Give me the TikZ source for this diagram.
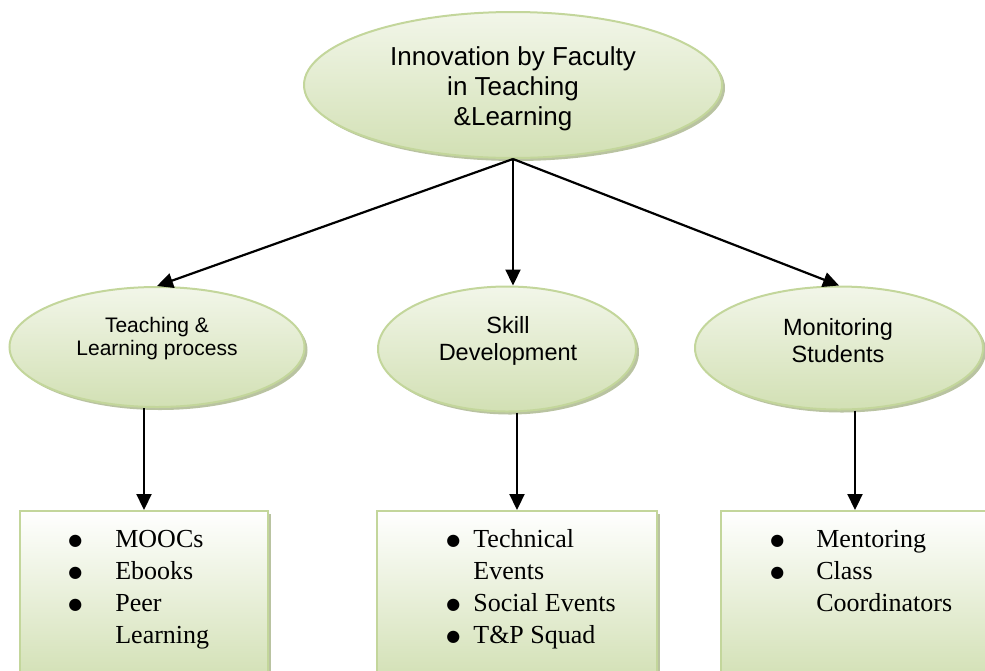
\documentclass[tikz,border=0pt]{standalone}
\usepackage{fontspec}
\setmainfont{Liberation Serif}
\setsansfont{Liberation Sans}
\newfontfamily\dotfont{DejaVu Sans}
\usetikzlibrary{arrows.meta, positioning, shapes.geometric, shadows}
\definecolor{leaf}{RGB}{195,214,155}
\definecolor{leaftop}{RGB}{242,246,233}
\definecolor{leafbot}{RGB}{210,224,180}
\definecolor{leafshade}{RGB}{168,180,138}
\newcommand{\bdot}{\raisebox{1.2pt}{\dotfont\fontsize{8pt}{10pt}\selectfont ●}}
\newcommand{\blist}[2]{\begin{tabular}{@{}l@{\hspace{#1}}l@{}}#2\end{tabular}}

\begin{document}
\begin{tikzpicture}[
      x=0.5pt, y=-0.5pt,
      oval/.style={ellipse, draw=leaf, line width=1pt, inner sep=0pt,
                   top color=leaftop, bottom color=leafbot,
                   drop shadow={shadow xshift=1.5pt, shadow yshift=-1.5pt,
                                fill=leafshade, opacity=.8}},
      panel/.style={rectangle, draw=leaf, line width=1pt, inner sep=0pt,
                    top color=white, bottom color=leafbot, anchor=north,
                    drop shadow={shadow xshift=1.5pt, shadow yshift=-1.5pt,
                                 fill=leafshade, opacity=.8}},
      otext/.style={align=center, inner sep=0pt, font=\sffamily},
      list/.style={anchor=north west, inner sep=0pt,
                   font=\fontsize{13pt}{16pt}\selectfont},
      ar/.style={-{Triangle[length=8pt, width=7.5pt]}, line width=1.1pt, draw=black}
    ]
    \useasboundingbox (0,0) rectangle (985,670);
    \clip (0,0) rectangle (985,670);
    % ovals
    \node[oval, minimum width=209pt, minimum height=73pt] (top) at (513,85) {};
    \node[oval, minimum width=147.5pt, minimum height=60pt] (tl) at (157,347) {};
    \node[oval, minimum width=129pt, minimum height=62.5pt] (sd) at (507,349) {};
    \node[oval, minimum width=144pt, minimum height=61.5pt] (ms) at (839,348) {};
    \node[otext, font=\sffamily\fontsize{13pt}{15pt}\selectfont] (toptxt) at (513,89)
      {Innovation by Faculty\\in Teaching\\\&Learning};
    \node[otext, font=\sffamily\fontsize{10.5pt}{11.5pt}\selectfont] (tltxt) at (157,339)
      {Teaching \&\\Learning process};
    \node[otext, font=\sffamily\fontsize{11.75pt}{13.5pt}\selectfont] (sdtxt) at (508,341)
      {Skill\\Development};
    \node[otext, font=\sffamily\fontsize{11.75pt}{13.5pt}\selectfont] (mstxt) at (838,341)
      {Monitoring\\Students};
    % panels
    \node[panel, minimum width=124pt, minimum height=85pt] (lbox) at (144,510) {};
    \node[panel, minimum width=140pt, minimum height=85pt] (mbox) at (517,510) {};
    \node[panel, minimum width=134pt, minimum height=85pt] (rbox) at (855,510) {};
    \node[list] (llist) at (68,525)
      {\blist{16.5pt}{\bdot & MOOCs\\ \bdot & Ebooks\\ \bdot & Peer\\ & Learning}};
    \node[list] (mlist) at (446,525)
      {\blist{6.5pt}{\bdot & Technical\\ & Events\\ \bdot & Social Events\\ \bdot & T\&P Squad}};
    \node[list] (rlist) at (770,525)
      {\blist{16pt}{\bdot & Mentoring\\ \bdot & Class\\ & Coordinators}};
    % arrows
    \draw[ar] (top.south) -- (tl.north);
    \draw[ar] (top.south) -- (top.south |- sd.north);
    \draw[ar] (top.south) -- (ms.north);
    \draw[ar] (tl.south -| lbox.north) -- (lbox.north);
    \draw[ar] (sd.south -| mbox.north) -- (mbox.north);
    \draw[ar] (ms.south -| rbox.north) -- (rbox.north);
  \end{tikzpicture}
\end{document}
